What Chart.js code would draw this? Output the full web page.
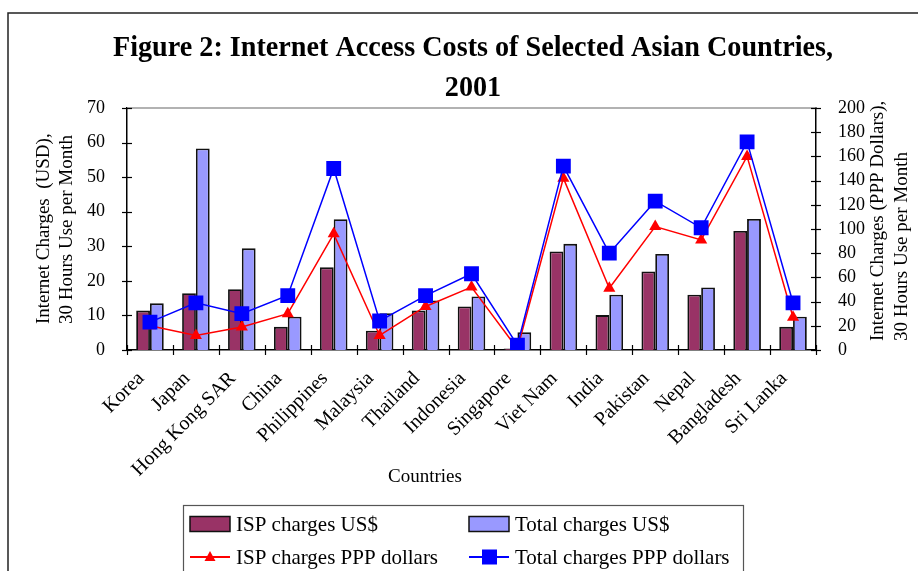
<!DOCTYPE html>
<html>
<head>
<meta charset="utf-8">
<script src="https://cdn.jsdelivr.net/npm/chart.js@4/dist/chart.umd.min.js"></script>
<style>
  body { margin: 0; background: #fff; }
  #wrap { width: 918px; height: 571px; position: relative; }
</style>
</head>
<body>
<div id="wrap"><canvas id="myChart"></canvas></div>
<script>
// Data
const countries = ["Korea", "Japan", "Hong Kong SAR", "China", "Philippines", "Malaysia", "Thailand",
    "Indonesia", "Singapore", "Viet Nam", "India", "Pakistan", "Nepal", "Bangladesh", "Sri Lanka"];
const ispUsd = [11.4, 16.4, 17.6, 6.7, 23.9, 5.6, 11.4, 12.6, 0.4, 28.5, 10.1, 22.7, 16.0, 34.4, 6.7];
const totalUsd = [13.5, 58.3, 29.4, 9.6, 37.8, 10.6, 14.3, 15.5, 5.1, 30.7, 16.0, 27.8, 18.1, 37.9, 9.6];
const ispPpp = [20, 12, 19, 30, 96, 12, 36, 52, 1, 142, 51, 102, 91, 160, 27];
const totalPpp = [23, 39, 30, 45, 150, 24, 45, 63, 4, 152, 80, 123, 101, 172, 39];
const leftTicks = [0, 10, 20, 30, 40, 50, 60, 70];
const rightTicks = [0, 20, 40, 60, 80, 100, 120, 140, 160, 180, 200];

const serif = '"Liberation Serif", "Times New Roman", serif';

// Frame, title, axis titles, tick marks and legend box
const decor = {
    id: 'decor',
    beforeDraw(chart) {
        const c = chart.ctx;
        c.save();
        c.fillStyle = '#fff';
        c.fillRect(0, 0, chart.width, chart.height);
        c.restore();
    },
    afterDraw(chart) {
        const c = chart.ctx;
        const a = chart.chartArea;
        c.save();

        // outer frame
        c.strokeStyle = '#222';
        c.lineWidth = 1.5;
        c.strokeRect(8, 13, 1000, 1000);

        // top border of plot
        c.strokeStyle = '#999';
        c.lineWidth = 1.5;
        c.beginPath();
        c.moveTo(a.left, a.top);
        c.lineTo(a.right, a.top);
        c.stroke();

        // tick marks crossing the axes
        c.strokeStyle = '#000';
        c.lineWidth = 1.2;
        const y = chart.scales.y, y1 = chart.scales.y1;
        leftTicks.forEach(v => {
            const p = Math.round(y.getPixelForValue(v)) + 0.5;
            c.beginPath(); c.moveTo(a.left - 5, p); c.lineTo(a.left + 5, p); c.stroke();
        });
        rightTicks.forEach(v => {
            const p = Math.round(y1.getPixelForValue(v)) + 0.5;
            c.beginPath(); c.moveTo(a.right - 5, p); c.lineTo(a.right + 5, p); c.stroke();
        });
        const step = (a.right - a.left) / countries.length;
        for (let i = 0; i <= countries.length; i++) {
            const p = Math.round(a.left + i * step) + 0.5;
            c.beginPath(); c.moveTo(p, a.bottom - 5); c.lineTo(p, a.bottom + 5); c.stroke();
        }

        // title (condensed bold serif)
        c.fillStyle = '#000';
        c.font = 'bold 30px ' + serif;
        c.textBaseline = 'middle';
        c.textAlign = 'center';
        const t1 = 'Figure 2: Internet Access Costs of Selected Asian Countries,';
        const w1 = c.measureText(t1).width;
        const sx = 720 / w1;
        c.save();
        c.translate(473, 48);
        c.scale(sx, 1);
        c.fillText(t1, 0, 0);
        c.fillText('2001', 0, 40);
        c.restore();

        // axis titles
        c.font = '19px ' + serif;
        c.textAlign = 'left';
        c.textBaseline = 'middle';
        const vText = (txt, x, yStart) => {
            c.save();
            c.translate(x, yStart);
            c.rotate(-Math.PI / 2);
            c.fillText(txt, 0, 0);
            c.restore();
        };
        vText('Internet Charges  (USD),', 44, 324);
        vText('30 Hours Use per Month', 67, 324);
        vText('Internet Charges (PPP Dollars),', 878, 341);
        vText('30 Hours Use per Month', 902, 341);

        c.textAlign = 'center';
        c.fillText('Countries', 425, 477);

        // legend
        c.strokeStyle = '#555';
        c.lineWidth = 1.2;
        c.strokeRect(183.5, 505.5, 560, 100);
        const ds = chart.data.datasets;
        const cols = [190, 469];
        const rows = [524, 557];
        c.font = '21px ' + serif;
        c.textAlign = 'left';
        ds.forEach((d, i) => {
            const x = cols[i % 2], yy = rows[Math.floor(i / 2)];
            if (d.type === 'bar') {
                c.fillStyle = d.backgroundColor;
                c.fillRect(x, yy - 7.5, 40, 15);
                c.strokeStyle = '#111';
                c.lineWidth = 1.5;
                c.strokeRect(x, yy - 7.5, 40, 15);
            } else {
                c.strokeStyle = d.borderColor;
                c.lineWidth = 2;
                c.beginPath(); c.moveTo(x, yy); c.lineTo(x + 40, yy); c.stroke();
                c.fillStyle = d.borderColor;
                if (d.pointStyle === 'rect') {
                    c.fillRect(x + 13, yy - 7.5, 15, 15);
                } else {
                    c.beginPath();
                    c.moveTo(x + 20, yy - 6);
                    c.lineTo(x + 25.5, yy + 4);
                    c.lineTo(x + 14.5, yy + 4);
                    c.closePath();
                    c.fill();
                }
            }
            c.fillStyle = '#000';
            c.fillText(d.label, x + 46, yy + 1);
        });

        c.restore();
    }
};

const ctx = document.getElementById("myChart").getContext("2d");
new Chart(ctx, {
    data: {
        labels: countries,
        datasets: [
            {
                type: 'bar', label: 'ISP charges US$', data: ispUsd, yAxisID: 'y',
                backgroundColor: '#993366', borderColor: '#111', borderWidth: 1.8,
                categoryPercentage: 0.6, barPercentage: 1.0, order: 2
            },
            {
                type: 'bar', label: 'Total charges US$', data: totalUsd, yAxisID: 'y',
                backgroundColor: '#9999FF', borderColor: '#111', borderWidth: 1.8,
                categoryPercentage: 0.6, barPercentage: 1.0, order: 2
            },
            {
                type: 'line', label: 'ISP charges PPP dollars', data: ispPpp, yAxisID: 'y1',
                borderColor: '#FF0000', backgroundColor: '#FF0000', borderWidth: 1.5,
                pointStyle: 'triangle', pointRadius: 7, pointBorderWidth: 0, order: 1
            },
            {
                type: 'line', label: 'Total charges PPP dollars', data: totalPpp, yAxisID: 'y1',
                borderColor: '#0000FF', backgroundColor: '#0000FF', borderWidth: 1.5,
                pointStyle: 'rect', pointRadius: 10.5, pointBorderWidth: 0, order: 0
            }
        ]
    },
    options: {
        responsive: true,
        maintainAspectRatio: false,
        animation: false,
        layout: { padding: { top: 108, left: 0, right: 0, bottom: 0 } },
        plugins: {
            legend: { display: false },
            title: { display: false },
            tooltip: { enabled: false }
        },
        scales: {
            x: {
                grid: { display: false },
                border: { color: '#000', width: 1.5 },
                ticks: {
                    color: '#000', font: { family: serif, size: 20 },
                    minRotation: 45, maxRotation: 45, padding: 9, autoSkip: false,
                    labelOffset: -9
                },
                afterFit: s => { s.height = 221; }
            },
            y: {
                position: 'left', min: 0, max: 70,
                grid: { display: false },
                border: { color: '#000', width: 1.5 },
                ticks: { color: '#000', font: { family: serif, size: 18 }, stepSize: 10, padding: 14, autoSkip: false },
                afterFit: s => { s.width = 127; }
            },
            y1: {
                position: 'right', min: 0, max: 200,
                grid: { display: false },
                border: { color: '#000', width: 1.5 },
                ticks: { color: '#000', font: { family: serif, size: 18 }, stepSize: 20, padding: 14, autoSkip: false },
                afterFit: s => { s.width = 102; }
            }
        }
    },
    plugins: [decor]
});
</script>
</body>
</html>
